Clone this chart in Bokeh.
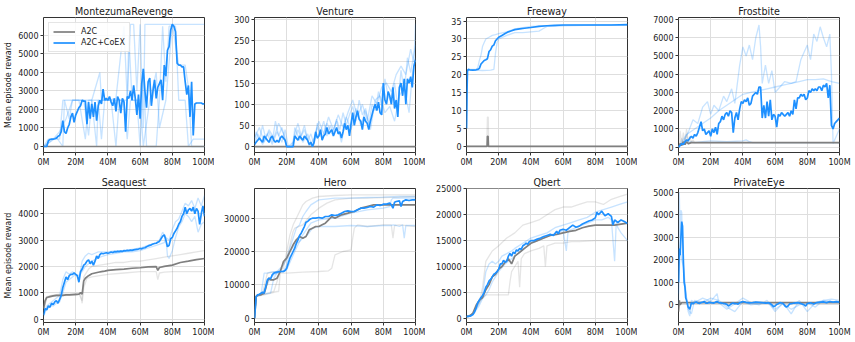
from bokeh.plotting import figure
from bokeh.layouts import row, column
from bokeh.models import Range1d, FixedTicker
from bokeh.embed import file_html
from bokeh.resources import INLINE

FONT = "DejaVu Sans"
BLUE = "#1E90FF"
GRAY = "#7f7f7f"

XTICKS = [0, 20, 40, 60, 80, 100]
XLABELS = ["0M", "20M", "40M", "60M", "80M", "100M"]
X101 = list(range(101))

# ---------------- MontezumaRevenge ----------------
MONT_BLUE = [0, 0, 0, 300, 380, 400, 400, 420, 450, 550, 600, 800, 1400, 800, 700, 1000, 1200, 1600, 1800, 1300,
             1700, 1900, 2100, 2200, 2500, 2450, 2450, 1200, 2400, 1500, 2300, 1600, 2400, 1400, 2200, 2500, 2300, 3100, 2500, 2600,
             2500, 2700, 2400, 2200, 2600, 1900, 2700, 2500, 1800, 2600, 2400, 800, 2700, 2600, 3000, 2500, 3300, 2600, 1700, 2800,
             1500, 3400, 4200, 3000, 2100, 3500, 3700, 2200, 3000, 3600, 2600, 3200, 3400, 3600, 2500, 4400, 3800, 5200, 5400, 6300,
             6600, 6500, 6200, 4500, 4400, 4400, 4300, 4300, 3500, 2800, 3300, 1600, 3500, 600, 2300, 2350, 2350, 2350, 2350, 2300, 2300]
MONT_GRAY_X = [0, 100]
MONT_GRAY = [0, 0]
MONT_S1_X = [0, 3, 10, 12, 20, 30, 33, 34, 40, 45, 48, 50, 52, 54, 56, 58, 60, 62, 63, 70, 75, 80, 85, 90, 95, 100]
MONT_S1 = [0, 400, 400, 2500, 2500, 2500, 0, 2500, 2500, 2600, 5000, 6500, 2500, 6600, 6600, 3000, 6600, 1000, 6600, 6600, 6600, 6600, 6600, 6600, 6600, 6600]
MONT_S2_X = [0, 5, 8, 12, 13, 16, 18, 25, 28, 30, 35, 36, 42, 45, 47, 52, 53, 55, 58, 60, 62, 64, 70, 72, 74, 76, 78, 82, 84, 88, 90, 93, 100]
MONT_S2 = [0, 300, 500, 0, 2500, 1500, 2500, 2500, 600, 2500, 4000, 2500, 2500, 0, 2500, 2500, 6000, 2500, 2500, 0, 4200, 0, 0, 2500, 6500, 3500, 6500, 6500, 2500, 2500, 0, 400, 400]
MONT_S3_X = [0, 6, 10, 14, 18, 22, 26, 28, 34, 36, 38, 44, 50, 52, 54, 60, 62, 66, 70, 72, 76, 80, 84, 88, 90, 92, 94, 100]
MONT_S3 = [0, 400, 800, 1500, 2500, 2500, 400, 2500, 2500, 400, 2500, 2500, 2500, 400, 2500, 2500, 0, 2500, 4000, 1000, 2500, 6600, 4400, 4400, 3200, 0, 0, 0]

# ---------------- Venture ----------------
VEN_BLUE = [5, 10, 15, 20, 15, 10, 25, 20, 15, 10, 20, 25, 15, 10, 15, 10, 20, 25, 20, 15,
            0, 0, 0, 0, 0, 25, 20, 15, 25, 20, 15, 25, 20, 15, 5, 10, 0, 10, 35, 20,
            25, 40, 15, 25, 30, 45, 30, 35, 40, 25, 35, 45, 30, 35, 20, 35, 55, 40, 50, 25,
            55, 80, 50, 70, 85, 65, 60, 40, 70, 60, 55, 40, 60, 75, 90, 100, 85, 105, 80, 75,
            150, 110, 100, 130, 120, 100, 140, 90, 110, 70, 140, 150, 120, 160, 100, 160, 150, 165, 140, 190, 205]
VEN_GRAY_X = [0, 100]
VEN_GRAY = [0, 0]
VEN_S1_X = [0, 3, 6, 9, 12, 15, 18, 20, 24, 25, 28, 31, 34, 37, 40, 43, 46, 49, 52, 55, 58, 61, 64, 67, 70, 73, 76, 79, 82, 85, 88, 91, 94, 97, 99, 100]
VEN_S1 = [20, 45, 10, 40, 20, 55, 30, 0, 0, 45, 15, 50, 0, 20, 60, 30, 70, 40, 75, 45, 80, 110, 70, 100, 60, 120, 100, 140, 150, 130, 170, 190, 170, 230, 200, 290]
VEN_S2_X = [0, 2, 5, 8, 11, 14, 17, 19, 21, 24, 27, 30, 33, 36, 39, 42, 45, 48, 51, 54, 57, 60, 63, 66, 69, 72, 75, 78, 81, 84, 87, 90, 93, 96, 98, 100]
VEN_S2 = [0, 30, 5, 30, 5, 35, 10, 40, 0, 10, 40, 10, 30, 0, 45, 20, 55, 30, 60, 10, 70, 40, 90, 50, 85, 40, 110, 120, 80, 95, 60, 120, 140, 80, 170, 210]
VEN_S3_X = [0, 1, 3, 5, 7, 9, 11, 13, 15, 17, 19, 20, 23, 25, 27, 29, 31, 33, 35, 37, 39, 41, 43, 45, 47, 49, 51, 53, 55, 57, 59, 61, 63, 65, 67, 69, 71, 73, 75, 77, 79, 81, 83, 85, 87, 89, 91, 93, 95, 97, 100]
VEN_S3 = [10, 35, 15, 50, 20, 35, 10, 60, 25, 45, 20, 0, 0, 30, 55, 25, 40, 15, 30, 5, 55, 35, 60, 25, 50, 30, 65, 40, 80, 50, 75, 95, 60, 110, 75, 90, 50, 100, 85, 130, 95, 160, 120, 105, 150, 95, 180, 130, 210, 175, 240]

# ---------------- Freeway ----------------
FRE_BLUE_X = [0, 0.3, 0.6, 1, 2, 4, 6, 7, 8, 9, 10, 11, 12, 13, 14, 15, 16, 17, 18, 19, 20, 22, 24, 26, 28, 30, 33, 36, 40, 45, 50, 55, 60, 70, 80, 90, 100]
FRE_BLUE = [5, 15, 21, 21.5, 21.4, 21.3, 21.4, 21.5, 21.8, 23, 23.5, 24, 24.2, 24.5, 26.5, 27, 28, 28.3, 29.5, 30, 30.5, 31, 31.5, 32, 32.3, 32.6, 32.8, 33, 33.2, 33.5, 33.7, 33.8, 33.9, 33.9, 33.9, 33.9, 34]
FRE_GRAY_X = [0, 12.8, 13, 13.4, 13.6, 100]
FRE_GRAY = [0, 0, 2.8, 2.8, 0, 0]
FRE_G1_X = [0, 12.6, 13, 13.5, 13.8, 100]
FRE_G1 = [0, 0, 8.2, 8.2, 0, 0]
FRE_S1_X = [0, 0.5, 1, 3, 6, 7, 8, 9, 10, 11, 12, 14, 16, 18, 20, 25, 30, 35, 40, 45, 50, 60, 80, 100]
FRE_S1 = [5, 21, 21.5, 21.5, 21.5, 22, 24, 25.5, 28, 29, 30, 30.5, 31, 31.2, 31.5, 32, 32.8, 33.2, 33.5, 33.6, 33.7, 33.8, 33.9, 33.9]
FRE_S2_X = [0, 0.5, 1, 5, 10, 15, 17, 18, 19, 20, 25, 30, 35, 40, 45, 48, 50, 60, 80, 100]
FRE_S2 = [5, 21, 21.3, 21.3, 21.2, 21.3, 21.5, 26, 29, 30, 31, 31.8, 31.8, 32, 32.2, 33, 33.5, 33.7, 33.9, 33.9]

# ---------------- Frostbite ----------------
FRO_BLUE = [0, 100, 200, 150, 300, 400, 350, 500, 600, 500, 700, 600, 800, 1100, 1400, 900, 1000, 700, 800, 900,
            600, 1000, 800, 1100, 700, 1300, 1400, 1700, 1500, 1800, 1900, 1700, 2000, 1900, 800, 1600, 1900, 1500, 2100, 2500,
            2400, 2600, 2500, 2700, 2300, 2400, 2800, 2900, 3000, 2900, 3300, 3300, 1600, 2300, 1600, 2500, 1700, 2600, 1500, 1800,
            1700, 1100, 1800, 1700, 1900, 1800, 1700, 1800, 1900, 1700, 2000, 1800, 2600, 2100, 2700, 2700, 2900, 2800, 2900, 2600,
            2700, 3100, 3000, 3200, 3100, 3200, 3100, 3300, 3300, 3100, 3400, 3300, 3500, 2700, 3400, 1200, 1000, 1300, 1400, 1500, 1600]
FRO_GRAY_X = [0, 1, 2, 3, 4, 5, 6, 8, 10, 100]
FRO_GRAY = [0, 200, 100, 300, 150, 300, 200, 250, 250, 250]
FRO_G1_X = [0, 1, 2, 3, 4, 5, 6, 7, 8, 10, 12, 14, 100]
FRO_G1 = [0, 900, 100, 800, 200, 1000, 300, 600, 250, 250, 250, 250, 250]
FRO_G2_X = [0, 2, 3, 5, 6, 9, 10, 14, 100]
FRO_G2 = [0, 500, 100, 700, 150, 400, 250, 250, 250]
FRO_S1_X = [0, 3, 6, 9, 12, 15, 18, 20, 22, 25, 28, 30, 33, 35, 38, 40, 42, 44, 46, 48, 50, 51, 52, 54, 56, 58, 60, 63, 66, 70, 73, 76, 78, 80, 82, 84, 86, 88, 90, 92, 94, 95, 96, 98, 100]
FRO_S1 = [0, 300, 800, 1500, 1300, 2200, 2500, 1800, 2300, 2000, 2800, 2500, 3200, 2400, 4500, 5500, 5000, 5600, 4800, 6000, 6700, 5500, 3500, 4500, 3500, 4200, 3000, 3300, 3600, 3500, 3600, 4800, 5200, 5600, 4800, 6200, 5800, 6600, 6000, 5500, 6200, 4000, 200, 600, 1000]
FRO_S2_X = [0, 5, 10, 15, 20, 25, 30, 35, 40, 45, 50, 55, 60, 65, 70, 75, 80, 85, 90, 95, 100]
FRO_S2 = [0, 700, 1000, 1300, 1600, 2000, 2300, 2600, 2900, 3000, 3100, 3200, 3300, 3400, 3500, 3600, 3700, 3700, 3750, 3600, 3500]
FRO_S3_X = [0, 3, 6, 10, 15, 20, 30, 40, 42, 44, 46, 50, 60, 80, 100]
FRO_S3 = [0, 200, 300, 250, 300, 350, 300, 350, 400, 300, 250, 250, 250, 250, 250]

# ---------------- Seaquest ----------------
SEA_BLUE = [150, 400, 350, 500, 450, 600, 550, 650, 700, 600, 750, 900, 1200, 1400, 1600, 1500, 1650, 1700, 1700, 1750,
            1700, 1650, 1400, 1800, 1900, 2050, 2100, 2200, 2250, 2100, 2200, 2050, 2200, 2400, 2300, 2450, 2500, 2480, 2500, 2520,
            2500, 2520, 2550, 2530, 2560, 2550, 2570, 2560, 2580, 2570, 2600, 2590, 2610, 2600, 2620, 2610, 2630, 2640, 2650, 2660,
            2680, 2670, 2700, 2710, 2750, 2780, 2800, 2820, 2850, 2870, 2880, 2920, 2950, 3050, 3150, 3200, 3000, 2750, 2800, 3050,
            3100, 3250, 3350, 3450, 3600, 3700, 3900, 4000, 4250, 4000, 4150, 4200, 4100, 4250, 4000, 4200, 4100, 3600, 4000, 4300, 3900]
SEA_GRAY_X = [0, 1, 2, 4, 6, 8, 10, 12, 14, 16, 18, 20, 22, 23, 24, 25, 26, 28, 30, 32, 34, 36, 38, 40, 45, 50, 55, 60, 65, 70, 71, 72, 75, 80, 85, 90, 95, 100]
SEA_GRAY = [400, 700, 820, 850, 880, 900, 900, 900, 920, 920, 930, 940, 950, 1000, 950, 1450, 1550, 1650, 1720, 1750, 1780, 1800, 1820, 1850, 1880, 1900, 1930, 1950, 1980, 1990, 1850, 1960, 2000, 2050, 2150, 2200, 2260, 2300]
SEA_G1_X = [0, 2, 5, 10, 15, 20, 22, 24, 25, 28, 30, 35, 40, 45, 50, 55, 60, 65, 70, 75, 80, 85, 90, 95, 100]
SEA_G1 = [300, 850, 900, 950, 950, 950, 950, 700, 1600, 1900, 2000, 2050, 2100, 2150, 2150, 2200, 2200, 2250, 2300, 2350, 2400, 2450, 2500, 2550, 2600]
SEA_G2_X = [0, 2, 5, 10, 15, 20, 23, 24, 25, 27, 30, 35, 40, 50, 60, 70, 71, 72, 75, 80, 90, 100]
SEA_G2 = [300, 800, 850, 880, 900, 900, 950, 600, 1200, 1550, 1600, 1650, 1700, 1750, 1800, 1800, 1500, 1750, 1780, 1800, 1800, 1800]
SEA_S1_X = [0, 2, 4, 6, 8, 10, 12, 14, 16, 18, 20, 22, 24, 26, 28, 30, 32, 34, 36, 40, 45, 50, 55, 60, 65, 70, 72, 74, 76, 78, 80, 82, 84, 86, 88, 90, 92, 94, 96, 98, 100]
SEA_S1 = [200, 500, 600, 700, 800, 900, 1500, 1800, 1700, 1800, 1700, 1500, 2200, 2400, 2500, 2450, 2500, 2550, 2550, 2550, 2600, 2600, 2650, 2700, 2800, 2900, 3000, 3300, 3100, 3000, 3400, 3700, 3800, 4100, 4400, 4300, 4500, 4200, 4600, 4300, 4700]
SEA_S2_X = [0, 2, 4, 6, 8, 10, 12, 14, 16, 18, 20, 22, 24, 26, 28, 30, 35, 40, 45, 50, 55, 60, 65, 70, 75, 76, 77, 78, 80, 82, 84, 86, 88, 90, 92, 94, 96, 98, 100]
SEA_S2 = [100, 400, 500, 500, 600, 650, 1000, 1400, 1500, 1600, 1700, 1650, 1800, 2000, 2100, 2200, 2350, 2450, 2500, 2550, 2550, 2600, 2700, 2800, 2900, 3100, 2400, 2300, 2600, 3100, 3500, 3700, 4000, 3900, 3700, 3900, 3300, 3600, 3700]

# ---------------- Hero ----------------
HERO_BLUE_X = [0, 0.5, 1, 2, 3, 4, 5, 6, 7, 8, 9, 10, 11, 12, 14, 16, 18, 19, 20, 21, 22, 23, 24, 25, 26, 27, 28, 29, 30, 31, 32, 33, 34, 35, 36, 38, 40, 42, 44, 46, 48, 50, 52, 54, 56, 58, 60, 62, 64, 66, 68, 70, 72, 74, 76, 78, 80, 82, 84, 85, 86, 87, 88, 90, 91, 92, 94, 96, 98, 100]
HERO_BLUE = [0, 3000, 6500, 7000, 7200, 7500, 7800, 7500, 9500, 11500, 12000, 11800, 13000, 13500, 13800, 14000, 14000, 14300, 15000, 16500, 18000, 19000, 20000, 21000, 22500, 23500, 24800, 25500, 26500, 27500, 28800, 29000, 29500, 29800, 30000, 30000, 30200, 30000, 30500, 30500, 31000, 30800, 31000, 31500, 32000, 32200, 32000, 32000, 32500, 33000, 33000, 33200, 33500, 33300, 34000, 33800, 34200, 34200, 34500, 34000, 33000, 34800, 35000, 35200, 33500, 35000, 35500, 35300, 35500, 35500]
HERO_GRAY_X = [0, 1, 2, 4, 6, 7, 8, 9, 10, 12, 14, 16, 18, 20, 22, 24, 26, 28, 30, 32, 34, 36, 38, 40, 42, 44, 46, 48, 50, 54, 58, 60, 62, 66, 70, 74, 80, 85, 90, 95, 100]
HERO_GRAY = [0, 6500, 7000, 7000, 7500, 9000, 11000, 12000, 11500, 11500, 12000, 14000, 17000, 18000, 20000, 22000, 23500, 24500, 24000, 24500, 26500, 27000, 27500, 27500, 28000, 28500, 29500, 30500, 30000, 31000, 31500, 31800, 32000, 33000, 33500, 34000, 34000, 34000, 34000, 34000, 34000]
HERO_G1_X = [0, 1, 5, 8, 14, 18, 20, 22, 24, 26, 28, 30, 32, 36, 40, 50, 60, 70, 80, 90, 100]
HERO_G1 = [0, 6500, 7500, 13500, 14000, 15000, 20000, 25000, 28000, 30000, 32000, 34000, 35000, 36000, 36500, 36800, 37000, 37000, 37000, 37000, 37000]
HERO_G2_X = [0, 1, 6, 14, 15, 16, 20, 30, 40, 46, 48, 50, 55, 60, 61, 62, 64, 70, 80, 85, 86, 87, 90, 100]
HERO_G2 = [0, 6500, 7000, 8000, 8000, 13500, 13500, 13800, 14000, 14200, 15000, 19000, 20000, 20500, 24000, 27000, 28000, 27500, 28000, 28000, 24000, 27800, 28000, 27500]
HERO_G3_X = [0, 1, 8, 12, 16, 20, 22, 24, 25, 30, 35, 40, 45, 50, 60, 70, 80, 90, 100]
HERO_G3 = [0, 6500, 7500, 8000, 14000, 18000, 22000, 26000, 27000, 28000, 31000, 33000, 34500, 35500, 36000, 36000, 36200, 36300, 36500]
HERO_S1_X = [0, 1, 4, 6, 8, 10, 14, 18, 20, 22, 24, 26, 28, 30, 32, 35, 40, 50, 60, 70, 80, 90, 100]
HERO_S1 = [0, 6500, 7000, 13500, 13500, 13800, 14000, 16000, 18000, 21000, 24000, 27000, 28000, 30500, 32000, 34000, 35500, 36000, 36000, 36200, 36300, 36500, 36500]
HERO_S2_X = [0, 1, 2, 10, 12, 14, 18, 20, 22, 25, 28, 30, 33, 36, 40, 50, 60, 70, 80, 85, 86, 88, 90, 92, 93, 94, 100]
HERO_S2 = [0, 6500, 7000, 7500, 12000, 13500, 14000, 16000, 20000, 22000, 23000, 24000, 25000, 27000, 27500, 27500, 27800, 27500, 27800, 27800, 28000, 27800, 27500, 28000, 24000, 27800, 27800]
HERO_S3_X = [0, 1, 5, 10, 12, 16, 20, 25, 30, 35, 40, 50, 60, 70, 80, 84, 85, 86, 90, 100]
HERO_S3 = [0, 6500, 7500, 12000, 13000, 14000, 14500, 20000, 25000, 28500, 29500, 30000, 31500, 32500, 33000, 33500, 35500, 36000, 36000, 36000]

# ---------------- Qbert ----------------
QB_BLUE_X = [0, 1, 2, 3, 4, 5, 6, 7, 8, 9, 10, 11, 12, 13, 14, 15, 16, 17, 18, 19, 20, 21, 22, 23, 24, 25, 26, 27, 28, 29, 30, 31, 32, 33, 34, 35, 36, 37, 38, 39, 40, 42, 44, 46, 48, 50, 52, 54, 56, 57, 58, 60, 62, 64, 66, 68, 70, 72, 74, 76, 78, 80, 81, 82, 84, 86, 88, 90, 91, 92, 94, 96, 98, 100]
QB_BLUE = [300, 350, 400, 500, 700, 1200, 2000, 3000, 3500, 4000, 4400, 5000, 6000, 6500, 7200, 7500, 8000, 8500, 8700, 9000, 9500, 10500, 10500, 11200, 10800, 11000, 12000, 12500, 12000, 12800, 12500, 13200, 13000, 13500, 13300, 14000, 14200, 14500, 14300, 14800, 15000, 15000, 15300, 15500, 15800, 16000, 16200, 16000, 16800, 16300, 17000, 17200, 17000, 17500, 18000, 17600, 17800, 18200, 18500, 18800, 19000, 19400, 20500, 20000, 20700, 19800, 20200, 19700, 18000, 19000, 18500, 19000, 18700, 18300]
QB_GRAY_X = [0, 2, 4, 6, 8, 10, 12, 14, 16, 18, 20, 22, 24, 26, 28, 30, 32, 34, 36, 38, 40, 44, 48, 52, 56, 60, 64, 68, 72, 76, 80, 84, 88, 92, 96, 100]
QB_GRAY = [300, 400, 1000, 2500, 3500, 4000, 5500, 6500, 8000, 8500, 9500, 10000, 10800, 11500, 10500, 12000, 12500, 13000, 13500, 14000, 14500, 15000, 15500, 16000, 16200, 16500, 16800, 17000, 17500, 17800, 18000, 18000, 18000, 18000, 18200, 18400]
QB_G1_X = [0, 4, 8, 10, 12, 14, 16, 20, 25, 30, 35, 40, 45, 50, 55, 60, 65, 70, 75, 80, 85, 90, 95, 100]
QB_G1 = [300, 800, 3000, 6000, 11000, 12000, 13000, 14000, 15500, 16500, 18000, 18500, 19000, 20000, 21000, 21500, 21500, 22000, 22500, 22500, 22000, 23000, 23500, 24000]
QB_G2_X = [0, 4, 8, 10, 12, 16, 20, 24, 26, 27, 28, 30, 32, 33, 34, 36, 40, 45, 48, 49, 50, 55, 60, 65, 70, 80, 90, 100]
QB_G2 = [300, 900, 3000, 4000, 4500, 4500, 4500, 4500, 4500, 7000, 9000, 10000, 11000, 6000, 11500, 12500, 13000, 13500, 14000, 10000, 14000, 14500, 14500, 14800, 14800, 15000, 15000, 15000]
QB_S1_X = [0, 4, 8, 10, 12, 14, 16, 18, 20, 22, 25, 28, 30, 35, 40, 45, 50, 55, 60, 65, 70, 75, 80, 85, 90, 95, 100]
QB_S1 = [300, 800, 3200, 4500, 9000, 10500, 11000, 10500, 11000, 12000, 12500, 13000, 13500, 14500, 15500, 16000, 16500, 17500, 18000, 18500, 19000, 19500, 20500, 21000, 21500, 22000, 22500]
QB_S2_X = [0, 4, 8, 10, 12, 14, 16, 20, 24, 28, 32, 36, 40, 44, 48, 52, 56, 60, 62, 63, 64, 68, 72, 76, 80, 84, 88, 90, 92, 93, 94, 96, 100]
QB_S2 = [300, 700, 2500, 3800, 4500, 5500, 7000, 9000, 10500, 11500, 12500, 13500, 14500, 15000, 15500, 16000, 16500, 17000, 13000, 16500, 17000, 17500, 18000, 18500, 19000, 19000, 19500, 19000, 11000, 18500, 17500, 16500, 15000]

# ---------------- PrivateEye ----------------
PE_BLUE_X = [0, 0.5, 1, 1.5, 2, 2.5, 3, 3.5, 4, 4.5, 5, 6, 7, 8, 9, 10, 11, 12, 13, 14, 15, 16, 17, 18, 19, 20, 21, 22, 23, 24, 25, 26, 27, 28, 29, 30, 31, 32, 33, 34, 35, 36, 37, 38, 39, 40, 42, 44, 46, 48, 50, 52, 54, 56, 57, 58, 59, 60, 61, 62, 63, 64, 65, 66, 67, 68, 69, 70, 72, 74, 76, 78, 79, 80, 82, 84, 86, 88, 90, 92, 94, 96, 98, 100]
PE_BLUE = [1000, 2500, 2200, 3000, 3700, 3500, 2000, 1000, 800, 300, 200, -100, -200, 100, 50, 100, 130, 80, 60, 100, 120, 150, 80, 70, 110, 100, 90, 80, 120, 150, 100, 90, 80, 60, 50, 20, -50, 0, 60, 80, 50, 60, 30, 100, 120, 150, 110, 90, 100, 120, 110, 100, 80, 90, 60, 0, -80, -50, 20, 50, 100, 80, 60, -40, -100, -50, 40, 50, 80, 100, 60, 0, -60, 60, 90, 40, 100, 120, 130, 100, 150, 120, 140, 120]
PE_GRAY_X = [0, 0.5, 1, 2, 3, 100]
PE_GRAY = [-300, 200, 0, 100, 100, 100]
PE_S1_X = [0, 0.5, 1, 1.5, 2, 2.5, 3, 4, 5, 6, 7, 8, 10, 15, 20, 24, 25, 30, 35, 40, 45, 50, 55, 60, 65, 70, 75, 80, 85, 90, 95, 100]
PE_S1 = [0, 5000, 3000, 4200, 4100, 2500, 1800, 1000, 300, -300, -500, 200, 100, 300, 150, 500, 100, -200, 50, 300, 100, 0, 200, -300, 100, -400, 200, -300, 100, 200, 250, 200]
PE_S2_X = [0, 1, 2, 3, 4, 5, 6, 8, 10, 15, 20, 25, 30, 35, 40, 45, 50, 55, 60, 65, 70, 75, 80, 85, 90, 95, 100]
PE_S2 = [500, 2500, 2000, 1700, 800, 300, -200, -400, 200, 100, 300, 200, -100, -300, 150, 0, 50, 100, -200, 50, -200, 0, 100, -100, 200, 150, 100]

PANELS = [
    dict(title="MontezumaRevenge", ylim=(-324, 6970), yticks=[0, 1000, 2000, 3000, 4000, 5000, 6000],
         blue=(X101, MONT_BLUE), gray=(MONT_GRAY_X, MONT_GRAY),
         lg=[], lb=[(MONT_S1_X, MONT_S1), (MONT_S2_X, MONT_S2), (MONT_S3_X, MONT_S3)]),
    dict(title="Venture", ylim=(-14, 305), yticks=[0, 50, 100, 150, 200, 250, 300],
         blue=(X101, VEN_BLUE), gray=(VEN_GRAY_X, VEN_GRAY),
         lg=[], lb=[(VEN_S1_X, VEN_S1), (VEN_S2_X, VEN_S2), (VEN_S3_X, VEN_S3)]),
    dict(title="Freeway", ylim=(-1.7, 36), yticks=[0, 5, 10, 15, 20, 25, 30, 35],
         blue=(FRE_BLUE_X, FRE_BLUE), gray=(FRE_GRAY_X, FRE_GRAY),
         lg=[(FRE_G1_X, FRE_G1)], lb=[(FRE_S1_X, FRE_S1), (FRE_S2_X, FRE_S2)]),
    dict(title="Frostbite", ylim=(-290, 7110), yticks=[0, 1000, 2000, 3000, 4000, 5000, 6000, 7000],
         blue=(X101, FRO_BLUE), gray=(FRO_GRAY_X, FRO_GRAY),
         lg=[(FRO_G1_X, FRO_G1), (FRO_G2_X, FRO_G2)], lb=[(FRO_S1_X, FRO_S1), (FRO_S2_X, FRO_S2), (FRO_S3_X, FRO_S3)]),
    dict(title="Seaquest", ylim=(-130, 4960), yticks=[0, 1000, 2000, 3000, 4000],
         blue=(X101, SEA_BLUE), gray=(SEA_GRAY_X, SEA_GRAY),
         lg=[(SEA_G1_X, SEA_G1), (SEA_G2_X, SEA_G2)], lb=[(SEA_S1_X, SEA_S1), (SEA_S2_X, SEA_S2)]),
    dict(title="Hero", ylim=(-1300, 38900), yticks=[0, 10000, 20000, 30000],
         blue=(HERO_BLUE_X, HERO_BLUE), gray=(HERO_GRAY_X, HERO_GRAY),
         lg=[(HERO_G1_X, HERO_G1), (HERO_G2_X, HERO_G2), (HERO_G3_X, HERO_G3)],
         lb=[(HERO_S1_X, HERO_S1), (HERO_S2_X, HERO_S2), (HERO_S3_X, HERO_S3)]),
    dict(title="Qbert", ylim=(-830, 25080), yticks=[0, 5000, 10000, 15000, 20000, 25000],
         blue=(QB_BLUE_X, QB_BLUE), gray=(QB_GRAY_X, QB_GRAY),
         lg=[(QB_G1_X, QB_G1), (QB_G2_X, QB_G2)], lb=[(QB_S1_X, QB_S1), (QB_S2_X, QB_S2)]),
    dict(title="PrivateEye", ylim=(-785, 5170), yticks=[0, 1000, 2000, 3000, 4000, 5000],
         blue=(PE_BLUE_X, PE_BLUE), gray=(PE_GRAY_X, PE_GRAY),
         lg=[], lb=[(PE_S1_X, PE_S1), (PE_S2_X, PE_S2)]),
]

LEFTS = [43, 40, 41, 41]
RIGHTS = [10, 10, 10, 12]


def make_panel(i, cfg):
    col = i % 4
    top_row = i < 4
    p = figure(frame_width=161, frame_height=135 if top_row else 134,
               output_backend="svg", toolbar_location=None,
               x_range=Range1d(0, 100), y_range=Range1d(*cfg["ylim"]),
               min_border_left=LEFTS[col], min_border_right=RIGHTS[col],
               min_border_top=17 if top_row else 16, min_border_bottom=20 if top_row else 16,
               title=cfg["title"])
    p.title.align = "center"
    p.title.text_font = FONT
    p.title.text_font_size = "9.6px"
    p.title.text_font_style = "normal"
    p.title.text_color = "#1a1a1a"
    p.title.standoff = 2
    p.outline_line_color = "#333333"
    p.outline_line_width = 1
    p.background_fill_color = "white"
    p.border_fill_color = "white"
    for ax in (p.xaxis[0], p.yaxis[0]):
        ax.axis_line_color = None
        ax.major_tick_out = 3
        ax.major_tick_in = 0
        ax.minor_tick_out = 0
        ax.minor_tick_in = 0
        ax.major_tick_line_color = "#333333"
        ax.major_label_text_font = FONT
        ax.major_label_text_font_size = "8px"
        ax.major_label_text_color = "#1a1a1a"
        ax.major_label_standoff = 2
    p.xaxis.ticker = FixedTicker(ticks=XTICKS)
    p.xaxis.major_label_overrides = {t: lab for t, lab in zip(XTICKS, XLABELS)}
    p.yaxis.ticker = FixedTicker(ticks=cfg["yticks"])
    p.grid.grid_line_color = "#dedede"
    p.grid.grid_line_width = 1
    if col == 0:
        p.yaxis.axis_label = "Mean episode reward"
        p.yaxis.axis_label_text_font = FONT
        p.yaxis.axis_label_text_font_size = "8px"
        p.yaxis.axis_label_text_font_style = "normal"
        p.yaxis.axis_label_text_color = "#1a1a1a"
        p.yaxis.axis_label_standoff = 2

    for xs, ys in cfg["lg"]:
        p.line(xs, ys, line_color=GRAY, line_alpha=0.2, line_width=1.3)
    for xs, ys in cfg["lb"]:
        p.line(xs, ys, line_color=BLUE, line_alpha=0.25, line_width=1.3)
    gx, gy = cfg["gray"]
    bx, by = cfg["blue"]
    if i == 0:
        p.line(gx, gy, line_color=GRAY, line_width=1.7, legend_label="A2C")
        p.line(bx, by, line_color=BLUE, line_width=1.7, legend_label="A2C+CoEX")
        lg = p.legend[0]
        lg.location = "top_left"
        lg.label_text_font = FONT
        lg.label_text_font_size = "8px"
        lg.label_text_color = "#1a1a1a"
        lg.glyph_width = 22
        lg.glyph_height = 9
        lg.label_height = 9
        lg.label_standoff = 6
        lg.spacing = 2
        lg.padding = 4
        lg.margin = 5
        lg.border_line_color = "#cccccc"
        lg.background_fill_alpha = 0.85
    else:
        p.line(gx, gy, line_color=GRAY, line_width=1.7)
        p.line(bx, by, line_color=BLUE, line_width=1.7)
    return p


figs = [make_panel(i, cfg) for i, cfg in enumerate(PANELS)]
layout = column(row(*figs[:4]), row(*figs[4:]))
open("out.html", "w").write(file_html(layout, INLINE))
